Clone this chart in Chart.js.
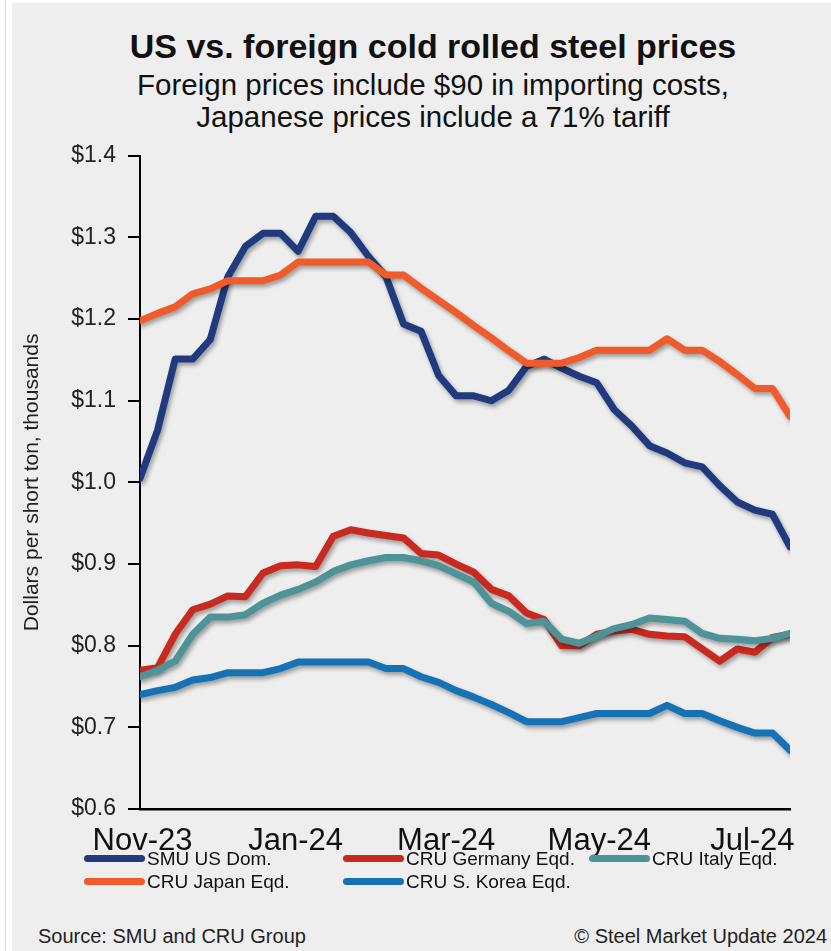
<!DOCTYPE html>
<html>
<head>
<meta charset="utf-8">
<script src="https://cdn.jsdelivr.net/npm/chart.js@4.4.1/dist/chart.umd.min.js"></script>
<style>
  body { margin: 0; width: 831px; height: 951px; position: relative; overflow: hidden; background: #fff;
         font-family: 'Liberation Sans', Arial, sans-serif; color: #111; }
  #panel { position: absolute; left: 12px; top: 3px; right: 0; bottom: 0; background: #eeeeee; }
  #edge { position: absolute; left: 5px; top: 0; bottom: 0; width: 1px; background: #d8d8d8; }
  .title { position: absolute; left: 35px; width: 796px; text-align: center; white-space: nowrap; }
  #t1 { top: 26px; font-size: 34px; line-height: 40px; font-weight: bold; }
  #t2 { top: 69px; font-size: 29.5px; line-height: 32px; }
  #t3 { top: 101px; font-size: 29.5px; line-height: 32px; }
  #wrap { position: absolute; left: 0; top: 130px; width: 831px; height: 735px; }
  #legend { position: absolute; left: 84px; top: 847px; display: grid;
            grid-template-columns: 259px 246px auto; grid-auto-rows: 23px; font-size: 19px; }
  .item { display: flex; align-items: center; white-space: nowrap; }
  .sw { width: 61px; height: 7px; border-radius: 4px; margin-right: 2px; }
  .foot { position: absolute; top: 924px; font-size: 20px; line-height: 24px; color: #222; }
</style>
</head>
<body>
<div id="edge"></div>
<div id="panel"></div>
<div class="title" id="t1">US vs. foreign cold rolled steel prices</div>
<div class="title" id="t2">Foreign prices include $90 in importing costs,</div>
<div class="title" id="t3">Japanese prices include a 71% tariff</div>
<div id="wrap"><canvas id="chart" width="831" height="735"></canvas></div>
<div id="legend"></div>
<div class="foot" style="left:38px">Source: SMU and CRU Group</div>
<div class="foot" style="right:4px">© Steel Market Update 2024</div>

<script>
// weekly price dates
const dates = ['2023-10-31', '2023-11-07', '2023-11-14', '2023-11-21', '2023-11-28', '2023-12-05',
  '2023-12-12', '2023-12-19', '2023-12-26', '2024-01-02', '2024-01-09', '2024-01-16', '2024-01-23',
  '2024-01-30', '2024-02-06', '2024-02-13', '2024-02-20', '2024-02-27', '2024-03-05', '2024-03-12',
  '2024-03-19', '2024-03-26', '2024-04-02', '2024-04-09', '2024-04-16', '2024-04-23', '2024-04-30',
  '2024-05-07', '2024-05-14', '2024-05-21', '2024-05-28', '2024-06-04', '2024-06-11', '2024-06-18',
  '2024-06-25', '2024-07-02', '2024-07-09', '2024-07-16'];

// $ thousands per short ton
const smuUS = [1.005, 1.064, 1.151, 1.151, 1.175, 1.252, 1.289, 1.305, 1.305, 1.283, 1.326, 1.326, 1.306,
  1.277, 1.252, 1.194, 1.185, 1.131, 1.106, 1.106, 1.100, 1.113, 1.142, 1.151, 1.140, 1.130, 1.122,
  1.089, 1.069, 1.045, 1.036, 1.024, 1.019, 0.996, 0.976, 0.966, 0.961, 0.921];
const germany = [0.770, 0.773, 0.814, 0.844, 0.851, 0.861, 0.860, 0.889, 0.898, 0.899, 0.897, 0.934, 0.942,
  0.938, 0.935, 0.932, 0.913, 0.911, 0.900, 0.890, 0.869, 0.861, 0.840, 0.832, 0.800, 0.800, 0.814,
  0.818, 0.820, 0.814, 0.812, 0.811, 0.796, 0.781, 0.796, 0.792, 0.810, 0.814];
const italy = [0.762, 0.770, 0.781, 0.814, 0.835, 0.835, 0.838, 0.852, 0.862, 0.869, 0.878, 0.891, 0.899,
  0.904, 0.908, 0.908, 0.904, 0.898, 0.888, 0.878, 0.852, 0.842, 0.827, 0.830, 0.808, 0.803, 0.812,
  0.821, 0.826, 0.834, 0.832, 0.830, 0.815, 0.809, 0.808, 0.806, 0.809, 0.815];
const japan = [1.198, 1.207, 1.215, 1.231, 1.237, 1.247, 1.247, 1.247, 1.254, 1.270, 1.270, 1.270, 1.270,
  1.270, 1.254, 1.254, 1.238, 1.223, 1.208, 1.192, 1.177, 1.161, 1.146, 1.146, 1.146, 1.153, 1.162,
  1.162, 1.162, 1.162, 1.176, 1.162, 1.162, 1.148, 1.132, 1.115, 1.115, 1.081];
const korea = [0.740, 0.745, 0.749, 0.758, 0.761, 0.767, 0.767, 0.767, 0.772, 0.780, 0.780, 0.780, 0.780,
  0.780, 0.772, 0.772, 0.762, 0.755, 0.745, 0.737, 0.728, 0.718, 0.707, 0.707, 0.707, 0.712, 0.717,
  0.717, 0.717, 0.717, 0.727, 0.717, 0.717, 0.708, 0.700, 0.693, 0.693, 0.672];

const seriesNames = ['SMU US Dom.', 'CRU Germany Eqd.', 'CRU Italy Eqd.', 'CRU Japan Eqd.', 'CRU S. Korea Eqd.'];
const seriesColors = ['#1f3a7e', '#c9291f', '#4e9398', '#f15a2a', '#1672b6'];
const seriesData = [smuUS, germany, italy, japan, korea];

const xTickDates = ['2023-11-01', '2024-01-01', '2024-03-01', '2024-05-01', '2024-07-01'];
const xTickLabels = ['Nov-23', 'Jan-24', 'Mar-24', 'May-24', 'Jul-24'];

const dayOf = d => Date.parse(d) / 864e5;
const xDays = dates.map(dayOf);

// soft drop shadow under each line, like the original
const shadow = {
  id: 'shadow',
  beforeDatasetDraw(chart) {
    const ctx = chart.ctx;
    ctx.save();
    ctx.shadowColor = 'rgba(0,0,0,0.35)';
    ctx.shadowBlur = 4;
    ctx.shadowOffsetX = 2;
    ctx.shadowOffsetY = 3;
  },
  afterDatasetDraw(chart) { chart.ctx.restore(); }
};

new Chart(document.getElementById('chart'), {
  type: 'line',
  data: {
    datasets: seriesData.map((vals, i) => ({
      label: seriesNames[i],
      data: vals.map((v, j) => ({ x: xDays[j], y: v })),
      borderColor: seriesColors[i],
      borderWidth: 7,
      borderCapStyle: 'round',
      borderJoinStyle: 'round',
      pointRadius: 0,
      tension: 0,
      order: seriesData.length - i
    }))
  },
  options: {
    responsive: false,
    animation: false,
    layout: { padding: { left: 16, right: 41, top: 21, bottom: 0 } },
    plugins: { legend: { display: false }, tooltip: { enabled: false } },
    scales: {
      x: {
        type: 'linear',
        min: xDays[0],
        max: xDays[xDays.length - 1],
        afterBuildTicks: s => { s.ticks = xTickDates.map(d => ({ value: dayOf(d) })); },
        afterFit: s => { s.height = 56; },
        ticks: {
          autoSkip: false, maxRotation: 0, padding: 14, color: '#111',
          font: { family: "'Liberation Sans', Arial, sans-serif", size: 31 },
          callback: (v, i) => xTickLabels[i]
        },
        grid: { drawOnChartArea: false, drawTicks: false, color: '#000' },
        border: { color: '#000', width: 2.5 }
      },
      y: {
        min: 0.6,
        max: 1.4,
        afterFit: s => { s.width = 124; },
        ticks: {
          stepSize: 0.1, padding: 12, color: '#222',
          font: { family: "'Liberation Sans', Arial, sans-serif", size: 23 },
          callback: v => '$' + v.toFixed(1)
        },
        grid: { drawOnChartArea: false, color: '#000', lineWidth: 2, tickLength: 12 },
        border: { color: '#000', width: 2 },
        title: {
          display: true, text: 'Dollars per short ton, thousands', color: '#222',
          font: { family: "'Liberation Sans', Arial, sans-serif", size: 21 }
        }
      }
    }
  },
  plugins: [shadow]
});

// legend in the original's two-row layout
const legend = document.getElementById('legend');
seriesNames.forEach((name, i) => {
  const item = document.createElement('div');
  item.className = 'item';
  item.innerHTML = '<span class="sw" style="background:' + seriesColors[i] + '"></span>' + name;
  legend.appendChild(item);
});
</script>
</body>
</html>
